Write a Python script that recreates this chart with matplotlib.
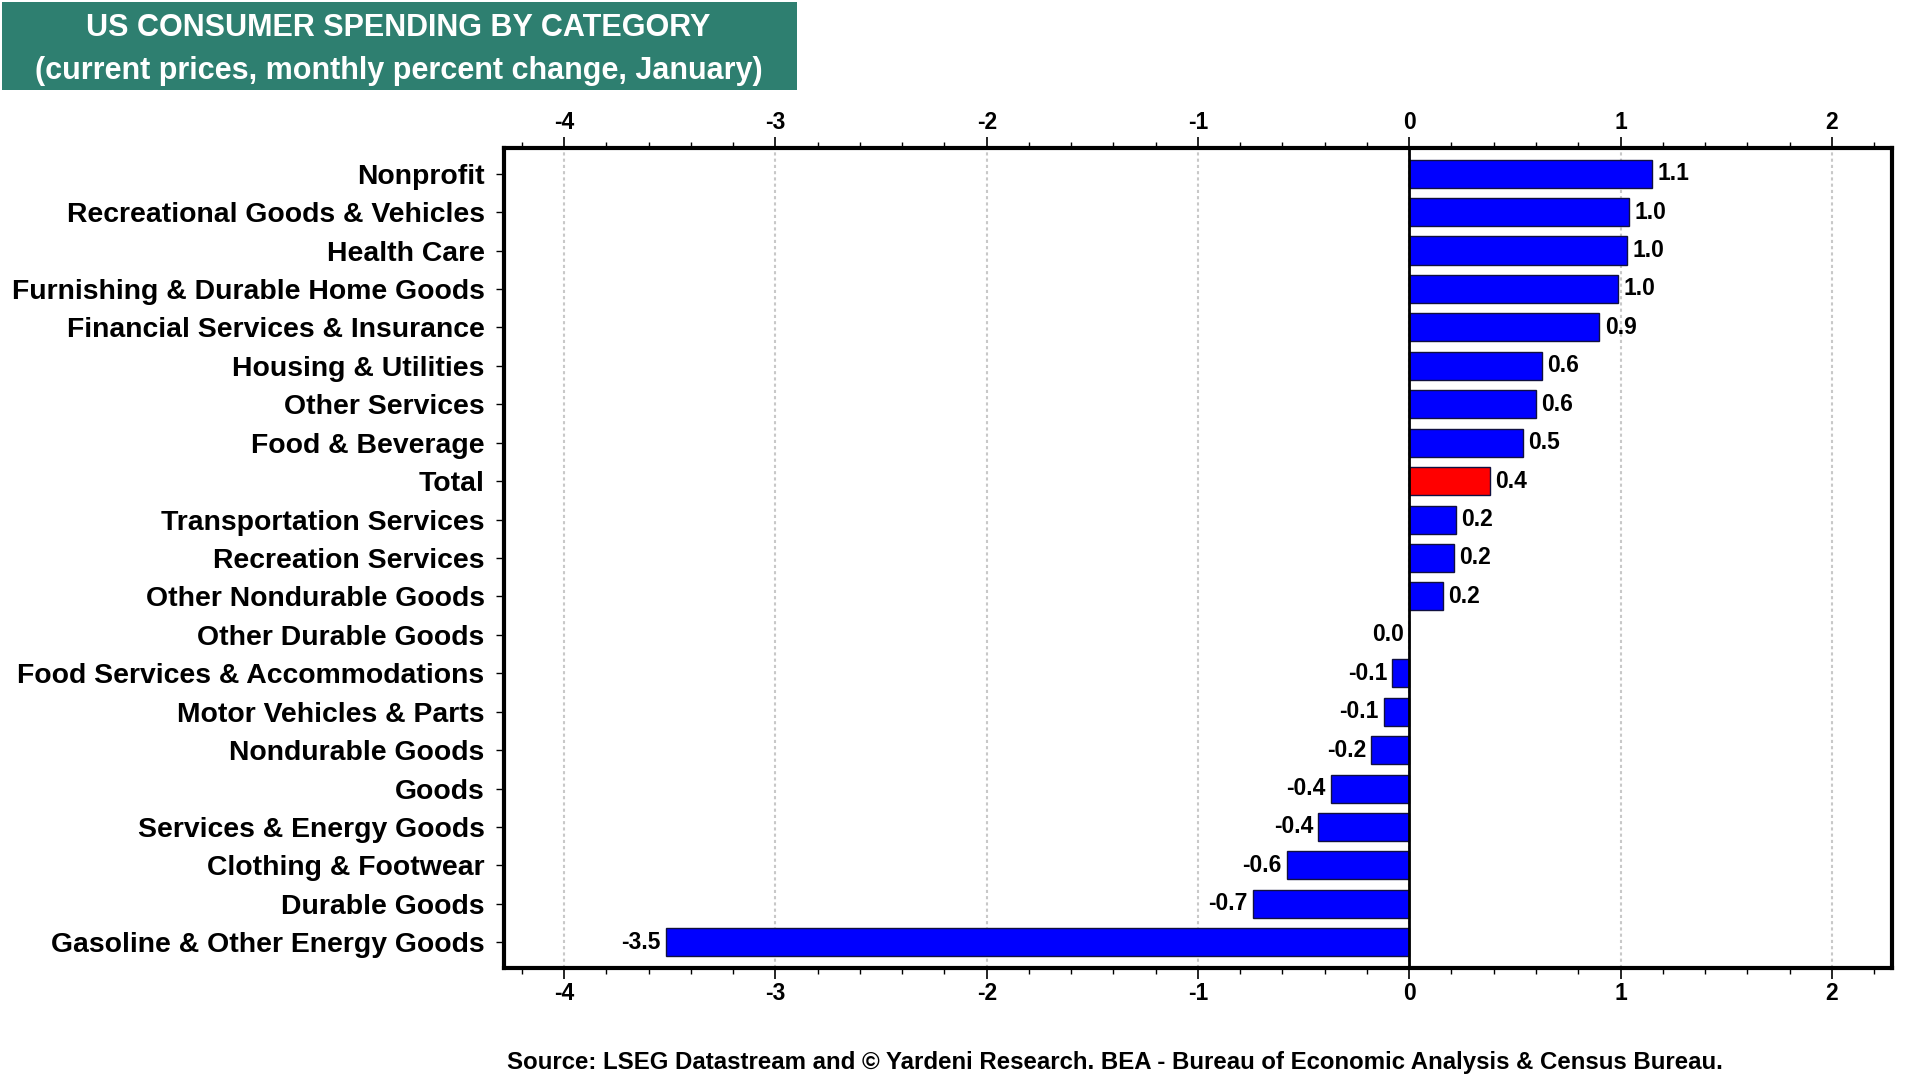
import numpy as np
import matplotlib
matplotlib.use("Agg")
import matplotlib.pyplot as plt
from matplotlib.patches import Rectangle
from matplotlib.ticker import MultipleLocator

plt.rcParams['font.family'] = ['Liberation Sans', 'DejaVu Sans']
plt.rcParams['font.weight'] = 'bold'

# categories listed top to bottom, as in the chart
categories = [
    "Nonprofit", "Recreational Goods & Vehicles", "Health Care",
    "Furnishing & Durable Home Goods", "Financial Services & Insurance",
    "Housing & Utilities", "Other Services", "Food & Beverage", "Total",
    "Transportation Services", "Recreation Services", "Other Nondurable Goods",
    "Other Durable Goods", "Food Services & Accommodations",
    "Motor Vehicles & Parts", "Nondurable Goods", "Goods",
    "Services & Energy Goods", "Clothing & Footwear", "Durable Goods",
    "Gasoline & Other Energy Goods",
]
values = [
    1.15, 1.04, 1.03, 0.99, 0.90, 0.63, 0.60, 0.54, 0.38, 0.22, 0.21, 0.16,
    0.0, -0.08, -0.12, -0.18, -0.37, -0.43, -0.58, -0.74, -3.52,
]
highlight = "Total"

title_lines = ["US CONSUMER SPENDING BY CATEGORY",
               "(current prices, monthly percent change, January)"]
source = ("Source: LSEG Datastream and \u00a9 Yardeni Research. "
          "BEA - Bureau of Economic Analysis & Census Bureau.")

fig = plt.figure(figsize=(19.2, 10.8), dpi=100)
ax = fig.add_axes([0.2625, 0.1037, 0.7229, 0.7597])

n = len(categories)
ypos = np.arange(n)[::-1]
colors = ["#ff0000" if c == highlight else "#0000ff" for c in categories]
ax.barh(ypos, values, height=0.73, color=colors, edgecolor="#101040",
        linewidth=1.0, zorder=3)
ax.axvline(0, color="black", lw=2, zorder=4)

for y, v in zip(ypos, values):
    if v > 0:
        ax.text(v + 0.025, y, f"{v:.1f}", ha="left", va="center",
                fontsize=16.5, fontweight="bold", zorder=5)
    else:
        ax.text(v - 0.025, y, f"{v:.1f}", ha="right", va="center",
                fontsize=16.5, fontweight="bold", zorder=5)

ax.set_xlim(-4.285, 2.285)
ax.set_ylim(-0.67, n - 1 + 0.68)
ax.set_yticks(ypos)
ax.set_yticklabels(categories, fontsize=20.4, fontweight="bold")

ax.xaxis.set_major_locator(MultipleLocator(1))
ax.xaxis.set_minor_locator(MultipleLocator(0.2))
ax.tick_params(axis="x", which="both", top=True, labeltop=True,
               bottom=True, labelbottom=True, direction="out",
               labelsize=16.5, pad=2)
ax.tick_params(axis="x", which="major", length=8, width=1.2)
ax.tick_params(axis="x", which="minor", length=4, width=1.0)
ax.tick_params(axis="y", length=6, width=1.0, pad=8)
ax.set_xticks([-4, -3, -2, -1, 0, 1, 2])
ax.set_xticklabels(["-4", "-3", "-2", "-1", "0", "1", "2"])

ax.grid(axis="x", which="major", color="#c8c8c8", linestyle=(0, (1.5, 1.5)),
        linewidth=1.5, zorder=0)
for s in ax.spines.values():
    s.set_linewidth(3)
    s.set_color("black")

# title box
fig.add_artist(Rectangle((0.001, 0.9167), 0.414, 0.0815,
                         transform=fig.transFigure, facecolor="#2e7f70",
                         edgecolor="none"))
fig.text(0.2075, 0.974, title_lines[0], ha="center", va="center",
         color="white", fontsize=22, fontweight="bold")
fig.text(0.2075, 0.934, title_lines[1], ha="center", va="center",
         color="white", fontsize=22, fontweight="bold")

fig.text(0.264, 0.0165, source, ha="left", va="center", fontsize=17.3,
         fontweight="bold")

fig.savefig("out.png", dpi=100)
